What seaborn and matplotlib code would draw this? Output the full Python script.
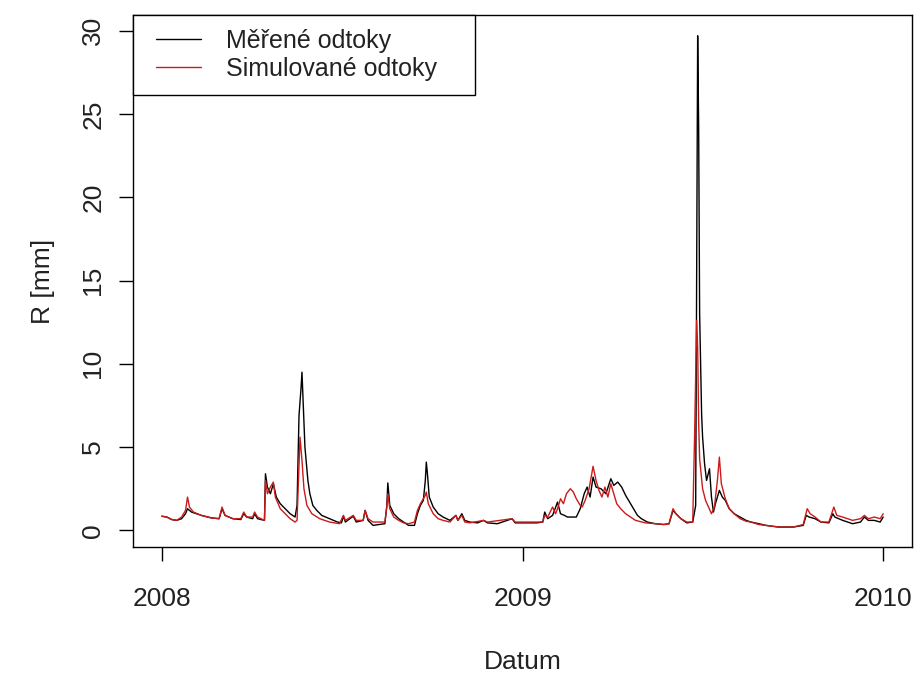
import matplotlib
matplotlib.use("Agg")
import matplotlib.pyplot as plt
from matplotlib.legend_handler import HandlerLine2D
import seaborn as sns
import pandas as pd

# ---- data (day offset from 2008-01-01, runoff in mm) ----
obs_days = [0, 5, 10, 15, 20, 24, 26, 30, 40, 50, 58, 61, 64, 72, 80, 83, 86, 92, 94, 97,
            104, 105, 107, 110, 113, 116, 120, 125, 130, 135, 137, 139, 141, 142, 143, 145,
            148, 150, 153, 157, 162, 170, 178, 182, 184, 186, 194, 197, 204, 206, 209, 214,
            220, 226, 228, 229, 231, 235, 240, 245, 250, 256, 259, 262, 265, 267, 268, 269,
            271, 275, 280, 285, 292, 298, 300, 304, 307, 312, 320, 326, 330, 340, 355, 358,
            370, 380, 386, 388, 391, 396, 401, 404, 408, 411, 420, 424, 428, 431, 434, 437,
            440, 445, 450, 455, 458, 462, 466, 470, 475, 478, 482, 486, 492, 500, 508, 514,
            518, 521, 526, 532, 538, 541, 542, 543, 544, 545, 547, 548, 550, 552, 555, 557,
            559, 561, 565, 568, 571, 575, 580, 586, 592, 597, 605, 612, 625, 640, 650, 653,
            656, 662, 668, 676, 680, 682, 690, 700, 708, 712, 716, 722, 728, 731]
obs_vals = [0.85, 0.8, 0.65, 0.6, 0.7, 1.0, 1.3, 1.1, 0.9, 0.75, 0.7, 1.3, 0.9, 0.7, 0.65, 1.0, 0.8, 0.7, 1.0, 0.7,
            0.6, 3.4, 2.6, 2.2, 2.8, 2.0, 1.6, 1.3, 1.0, 0.8, 1.5, 6.9, 8.5, 9.5, 8.0, 5.0,
            3.0, 2.2, 1.5, 1.2, 0.9, 0.7, 0.5, 0.45, 0.85, 0.5, 0.85, 0.5, 0.6, 1.2, 0.6, 0.3,
            0.35, 0.4, 1.5, 2.85, 1.5, 1.0, 0.7, 0.5, 0.3, 0.3, 1.0, 1.5, 1.8, 3.0, 4.1, 3.5,
            2.0, 1.4, 1.0, 0.8, 0.6, 0.9, 0.6, 1.0, 0.6, 0.5, 0.45, 0.6, 0.45, 0.4, 0.7, 0.45,
            0.45, 0.45, 0.5, 1.1, 0.7, 0.9, 1.7, 1.0, 0.9, 0.8, 0.8, 1.3, 2.2, 2.6, 2.0, 3.2,
            2.6, 2.5, 2.2, 3.1, 2.7, 2.9, 2.6, 2.1, 1.6, 1.3, 0.9, 0.7, 0.5, 0.4, 0.35, 0.4,
            1.2, 1.0, 0.7, 0.45, 0.5, 1.5, 16.0, 29.7, 24.3, 13.0, 7.0, 5.6, 4.0, 3.0, 3.7, 2.0,
            1.1, 1.6, 2.4, 2.0, 1.8, 1.3, 1.0, 0.8, 0.6, 0.5, 0.4, 0.3, 0.2, 0.2, 0.3, 0.9,
            0.8, 0.7, 0.5, 0.45, 1.0, 0.8, 0.6, 0.4, 0.5, 0.8, 0.6, 0.6, 0.5, 0.8]

sim_days = [0, 5, 10, 15, 20, 24, 26, 28, 32, 40, 50, 58, 61, 64, 72, 80, 83, 86, 92, 94, 97,
            104, 105, 107, 110, 113, 115, 120, 125, 130, 135, 137, 139, 140, 142, 144, 147,
            152, 160, 170, 180, 184, 186, 194, 197, 204, 206, 209, 214, 220, 226, 228, 229,
            231, 235, 240, 245, 250, 256, 259, 262, 265, 267, 268, 270, 275, 280, 285, 292,
            298, 300, 304, 307, 312, 326, 330, 355, 358, 386, 388, 391, 396, 399, 401, 404,
            407, 410, 414, 417, 420, 424, 426, 429, 433, 437, 440, 443, 446, 449, 452, 455,
            458, 461, 465, 470, 475, 480, 490, 500, 510, 514, 518, 521, 526, 532, 538, 540,
            542, 543, 544, 545, 548, 551, 554, 557, 560, 563, 565, 567, 571, 575, 580, 586,
            592, 597, 605, 612, 625, 640, 650, 654, 657, 662, 668, 676, 681, 684, 690, 700,
            708, 712, 716, 722, 728, 731]
sim_vals = [0.85, 0.8, 0.65, 0.6, 0.8, 1.2, 2.0, 1.4, 1.1, 0.9, 0.75, 0.7, 1.4, 0.9, 0.7, 0.7, 1.1, 0.8, 0.8, 1.1, 0.8,
            0.6, 3.0, 2.2, 2.6, 2.9, 2.0, 1.3, 1.0, 0.7, 0.5, 0.6, 4.0, 5.6, 4.2, 2.5, 1.5,
            1.0, 0.7, 0.5, 0.4, 0.9, 0.6, 0.9, 0.6, 0.6, 1.2, 0.7, 0.5, 0.5, 0.5, 1.4, 2.2,
            1.3, 0.8, 0.6, 0.45, 0.4, 0.5, 1.2, 1.6, 1.9, 2.1, 2.3, 1.6, 1.0, 0.7, 0.6, 0.5,
            0.9, 0.6, 0.9, 0.5, 0.45, 0.6, 0.5, 0.7, 0.5, 0.5, 0.9, 0.8, 1.4, 1.0, 1.3, 1.9,
            1.6, 2.2, 2.5, 2.3, 1.9, 1.5, 1.4, 1.8, 2.5, 3.85, 3.0, 2.4, 2.0, 2.6, 2.0, 2.8,
            2.2, 1.6, 1.3, 1.0, 0.8, 0.6, 0.45, 0.4, 0.35, 0.4, 1.3, 1.0, 0.7, 0.5, 0.5, 6.0,
            12.6, 11.0, 6.5, 4.3, 2.5, 1.8, 1.4, 1.0, 1.4, 3.0, 4.4, 2.8, 1.9, 1.3, 1.0, 0.7,
            0.55, 0.5, 0.35, 0.3, 0.2, 0.2, 0.35, 1.3, 1.0, 0.8, 0.5, 0.5, 1.4, 0.9, 0.8, 0.6,
            0.7, 0.9, 0.7, 0.8, 0.7, 1.0]

series_names = ["Měřené odtoky", "Simulované odtoky"]
series_colors = ["black", "#cc1a1a"]
y_ticks = [0, 5, 10, 15, 20, 25, 30]
x_tick_labels = ["2008", "2009", "2010"]
start = pd.Timestamp("2008-01-01")

obs = pd.DataFrame({"Datum": start + pd.to_timedelta(obs_days, unit="D"),
                    "R": obs_vals, "serie": series_names[0]})
sim = pd.DataFrame({"Datum": start + pd.to_timedelta(sim_days, unit="D"),
                    "R": sim_vals, "serie": series_names[1]})
df = pd.concat([obs, sim], ignore_index=True)

sns.set_style("white")
plt.rcParams["font.family"] = ["Liberation Sans", "DejaVu Sans"]
plt.rcParams["axes.unicode_minus"] = False
txt_color = "#222222"

fig = plt.figure(figsize=(9.15, 6.75), dpi=100)
ax = fig.add_axes([0.1454, 0.1896, 0.8513, 0.7882])

sns.lineplot(data=df, x="Datum", y="R", hue="serie", hue_order=series_names,
             palette=series_colors, linewidth=1.0, ax=ax, legend=False,
             estimator=None, sort=False)

fs = 19
ax.set_xlim(start - pd.Timedelta(days=29.2), pd.Timestamp("2010-01-01") + pd.Timedelta(days=29.2))
ax.set_ylim(-1.0, 30.95)
ax.set_yticks(y_ticks)
ax.set_yticklabels([str(v) for v in y_ticks], rotation=90, va="center", fontsize=fs, color=txt_color)
ax.set_xticks([pd.Timestamp(f"{y}-01-01") for y in x_tick_labels])
ax.set_xticklabels(x_tick_labels, fontsize=fs, color=txt_color)
ax.tick_params(axis="x", direction="out", length=10, width=1.0, pad=19, color="black")
ax.tick_params(axis="y", direction="out", length=10, width=1.0, pad=10, color="black")
ax.tick_params(bottom=True, left=True)
for s in ax.spines.values():
    s.set_visible(True)
    s.set_color("black")
    s.set_linewidth(1.0)

ax.set_xlabel("Datum", fontsize=fs, labelpad=28, color=txt_color)
ax.set_ylabel("R [mm]", fontsize=fs, labelpad=19, color=txt_color)

lines = ax.get_lines()
# xpad moves the legend line to the right inside the legend (R-like look)
hmap = {ln: HandlerLine2D(xpad=0.36) for ln in lines[:2]}
leg = ax.legend(lines[:2], series_names, loc="upper left", bbox_to_anchor=(0, 0, 0.439, 1),
                mode="expand", borderaxespad=0, fontsize=18, frameon=True, fancybox=False,
                edgecolor="black", framealpha=1, handlelength=2.16, handletextpad=1.0,
                borderpad=0.56, labelspacing=0.16, handler_map=hmap)
leg.get_frame().set_linewidth(1.0)
for t in leg.get_texts():
    t.set_color(txt_color)
for h in leg.get_lines():
    h.set_linewidth(1.0)

fig.savefig("out.png", dpi=100)
